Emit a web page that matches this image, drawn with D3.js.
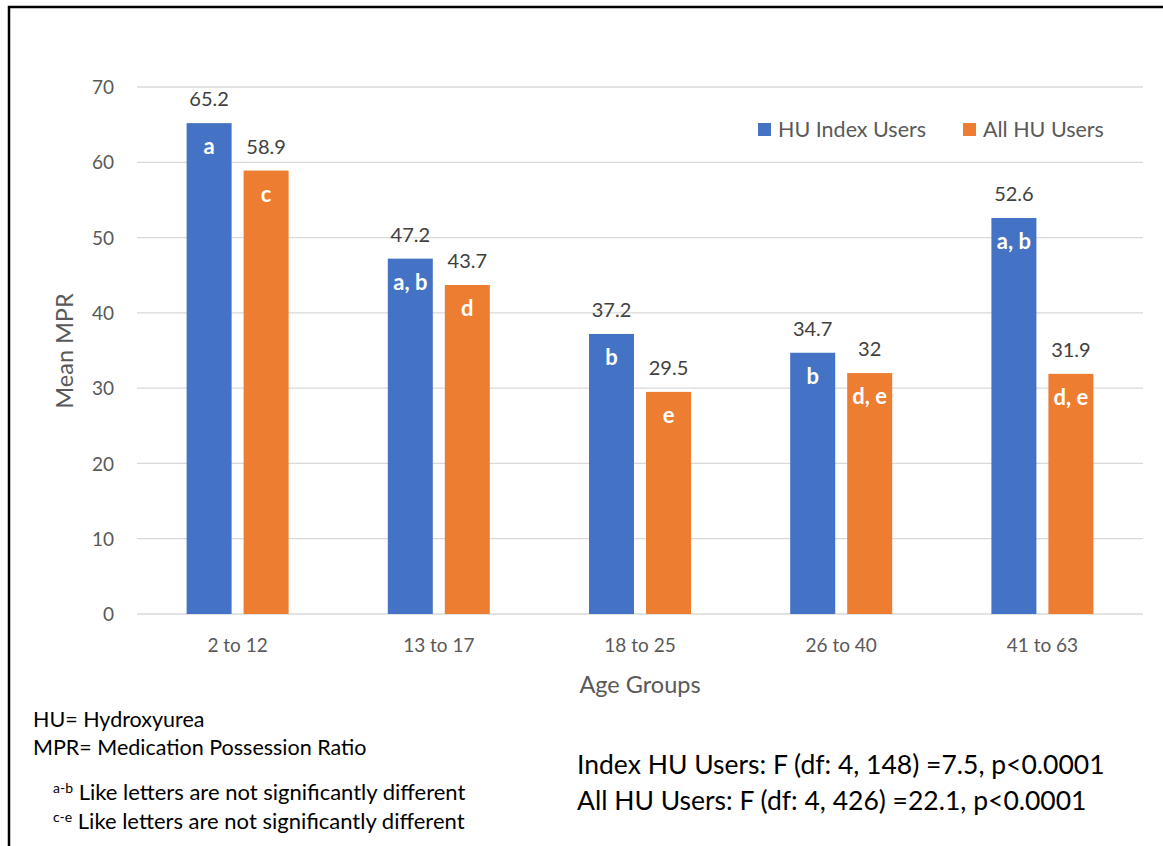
<!DOCTYPE html>
<html>
<head>
<meta charset="utf-8">
<script src="https://cdn.jsdelivr.net/npm/d3@7"></script>
<style>
  html, body { margin: 0; padding: 0; background: #fff; }
  svg { display: block; font-family: Lato, "Open Sans", sans-serif; }
</style>
</head>
<body>
<svg id="chart" width="1163" height="846"></svg>
<script>
// Mean medication possession ratio by age group
const ageGroups = ["2 to 12", "13 to 17", "18 to 25", "26 to 40", "41 to 63"];
const seriesNames = ["HU Index Users", "All HU Users"];
const indexUsers = [65.2, 47.2, 37.2, 34.7, 52.6];
const allUsers = [58.9, 43.7, 29.5, 32, 31.9];
const indexLetters = ["a", "a, b", "b", "b", "a, b"];
const allLetters = ["c", "d", "e", "d, e", "d, e"];
const yTicks = [0, 10, 20, 30, 40, 50, 60, 70];
const colors = ["#4472C4", "#ED7D31"];

const svg = d3.select("#chart");

// Outer frame
svg.append("path")
  .attr("d", "M9,846 V7 H1163")
  .attr("fill", "none")
  .attr("stroke", "#000")
  .attr("stroke-width", 2.5);

const plot = { left: 137, right: 1143, top: 87, bottom: 614 };

const x = d3.scaleBand().domain(ageGroups).range([plot.left, plot.right]).paddingInner(0).paddingOuter(0);
const y = d3.scaleLinear().domain([0, 70]).range([plot.bottom, plot.top]);

const barW = 45, gap = 12;

// Gridlines
svg.append("g")
  .selectAll("line")
  .data(yTicks)
  .join("line")
  .attr("x1", plot.left).attr("x2", plot.right)
  .attr("y1", d => y(d)).attr("y2", d => y(d))
  .attr("stroke", "#d9d9d9").attr("stroke-width", 1.3);

// Y axis labels
const yAxis = d3.axisLeft(y).tickValues(yTicks).tickSize(0).tickPadding(0);
const yg = svg.append("g").attr("transform", `translate(114,0)`).call(yAxis);
yg.select(".domain").remove();
yg.selectAll("text").attr("font-size", 19).attr("fill", "#595959").attr("font-family", "Lato, sans-serif").attr("dy", "0.35em");

// X axis labels
const xAxis = d3.axisBottom(x).tickSize(0).tickPadding(0);
const xg = svg.append("g").attr("transform", `translate(0,${plot.bottom + 24})`).call(xAxis);
xg.select(".domain").remove();
xg.selectAll("text").attr("font-size", 19).attr("fill", "#595959").attr("font-family", "Lato, sans-serif").attr("dy", "0.71em");

// Axis titles
svg.append("text")
  .attr("transform", "translate(73,351) rotate(-90)")
  .attr("text-anchor", "middle")
  .attr("font-size", 23.5).attr("fill", "#595959")
  .text("Mean MPR");
svg.append("text")
  .attr("x", 640).attr("y", 693)
  .attr("text-anchor", "middle")
  .attr("font-size", 23.5).attr("fill", "#595959")
  .text("Age Groups");

// Bars
const series = [indexUsers, allUsers];
const letters = [indexLetters, allLetters];
series.forEach((vals, s) => {
  const off = s === 0 ? -(gap / 2 + barW) : gap / 2;
  const g = svg.append("g");
  const cx = (d, i) => x(ageGroups[i]) + x.bandwidth() / 2 + off;
  g.selectAll("rect")
    .data(vals)
    .join("rect")
    .attr("x", (d, i) => cx(d, i))
    .attr("y", d => y(d))
    .attr("width", barW)
    .attr("height", d => y(0) - y(d))
    .attr("fill", colors[s]);
  // value labels
  g.selectAll("text.val")
    .data(vals)
    .join("text")
    .attr("class", "val")
    .attr("x", (d, i) => cx(d, i) + barW / 2)
    .attr("y", d => y(d) - 17)
    .attr("text-anchor", "middle")
    .attr("font-size", 20).attr("fill", "#404040")
    .text(d => d);
  // significance letters
  g.selectAll("text.let")
    .data(vals)
    .join("text")
    .attr("class", "let")
    .attr("x", (d, i) => cx(d, i) + barW / 2)
    .attr("y", d => y(d) + 31)
    .attr("text-anchor", "middle")
    .attr("font-size", 22).attr("font-weight", 700).attr("fill", "#fff")
    .text((d, i) => letters[s][i]);
});

// Legend
const legend = svg.append("g");
const legendX = [758, 963];
seriesNames.forEach((name, i) => {
  legend.append("rect")
    .attr("x", legendX[i]).attr("y", 123)
    .attr("width", 13).attr("height", 13)
    .attr("fill", colors[i]);
  legend.append("text")
    .attr("x", legendX[i] + 20).attr("y", 137)
    .attr("font-size", 21.5).attr("fill", "#595959")
    .text(name);
});

// Footnotes
const notes = svg.append("g").attr("fill", "#000");
notes.append("text").attr("x", 33).attr("y", 727).attr("font-size", 21.5).text("HU= Hydroxyurea");
notes.append("text").attr("x", 33).attr("y", 755).attr("font-size", 21.5).text("MPR= Medication Possession Ratio");
const sup1 = notes.append("text").attr("x", 53).attr("y", 800).attr("font-size", 22);
sup1.append("tspan").attr("font-size", 14).attr("dy", -7).text("a-b");
sup1.append("tspan").attr("dy", 7).text(" Like letters are not significantly different");
const sup2 = notes.append("text").attr("x", 53).attr("y", 829).attr("font-size", 22);
sup2.append("tspan").attr("font-size", 14).attr("dy", -7).text("c-e");
sup2.append("tspan").attr("dy", 7).text(" Like letters are not significantly different");

// Test statistics
notes.append("text").attr("x", 577).attr("y", 774).attr("font-size", 26.5).text("Index HU Users: F (df: 4, 148) =7.5, p<0.0001");
notes.append("text").attr("x", 577).attr("y", 810).attr("font-size", 26.5).text("All HU Users: F (df: 4, 426) =22.1, p<0.0001");
</script>
</body>
</html>
